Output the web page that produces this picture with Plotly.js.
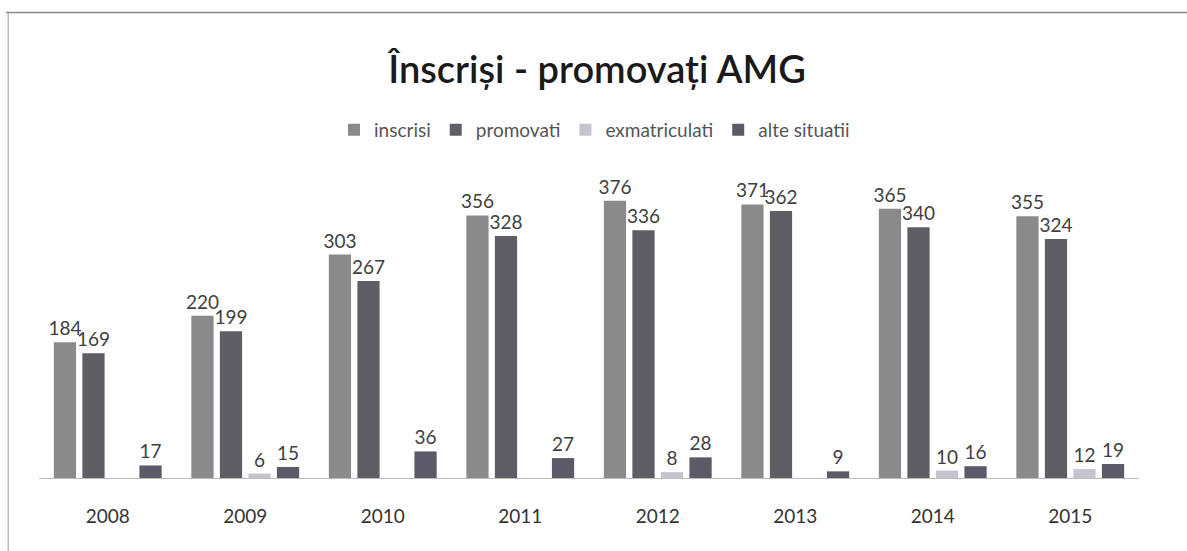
<!DOCTYPE html>
<html>
<head>
<meta charset="utf-8">
<script src="https://cdn.plot.ly/plotly-3.0.1.min.js"></script>
<style>html,body{margin:0;padding:0;background:#fff;}#chart{width:1187px;height:551px;}</style>
</head>
<body>
<div id="chart"></div>
<script>
const years = ['2008','2009','2010','2011','2012','2013','2014','2015'];
const inscrisi = [184, 220, 303, 356, 376, 371, 365, 355];
const promovati = [169, 199, 267, 328, 336, 362, 340, 324];
const exmatriculati = [null, 6, null, null, 8, null, 10, 12];
const alteSituatii = [17, 15, 36, 27, 28, 9, 16, 19];

const seriesNames = ['inscrisi', 'promovati', 'exmatriculati', 'alte situatii'];
const seriesValues = [inscrisi, promovati, exmatriculati, alteSituatii];
const seriesColors = ['#8a8a8c', '#5e5e66', '#c4c4d0', '#5a5a68'];

const traces = seriesValues.map((vals, i) => ({
  type: 'bar',
  name: seriesNames[i],
  x: years,
  y: vals,
  marker: {color: seriesColors[i]},
  text: vals.map(v => v === null ? '' : String(v)),
  textposition: 'outside',
  cliponaxis: false,
  constraintext: 'none',
  textfont: {family: 'Lato, "Open Sans", sans-serif', size: 19, color: '#404040'},
  hoverinfo: 'x+y+name'
}));

const layout = {
  width: 1187,
  height: 551,
  margin: {l: 39, r: 48, t: 183, b: 73},
  paper_bgcolor: '#ffffff',
  plot_bgcolor: '#ffffff',
  barmode: 'group',
  bargap: 0.17,
  bargroupgap: 0.22,
  title: {
    text: 'Înscriși - promovați AMG',
    font: {family: 'Lato, "Open Sans", sans-serif', size: 38, weight: 600, color: '#1a1a1a'},
    x: 0.503, xanchor: 'center',
    y: 0.873, yanchor: 'middle'
  },
  showlegend: true,
  legend: {
    orientation: 'h',
    x: 0.505, xanchor: 'center',
    y: 1.18, yanchor: 'middle',
    font: {family: 'Lato, "Open Sans", sans-serif', size: 19, color: '#555555'},
    itemwidth: 30,
    traceorder: 'normal'
  },
  xaxis: {
    type: 'category',
    showgrid: false,
    showline: true,
    linecolor: '#bdbdbd',
    linewidth: 1,
    ticks: '',
    tickfont: {family: 'Lato, "Open Sans", sans-serif', size: 19, color: '#333333'},
    ticklabelstandoff: 21
  },
  yaxis: {
    range: [0, 400],
    visible: false,
    showgrid: false,
    zeroline: false
  },
  shapes: [
    {type: 'line', xref: 'paper', yref: 'paper', x0: -0.03, x1: 1.05, y0: 1.578, y1: 1.578,
     line: {color: '#8a8a8a', width: 1.5}},
    {type: 'line', xref: 'paper', yref: 'paper', x0: -0.028, x1: -0.028, y0: 1.578, y1: -0.25,
     line: {color: '#9a9a9a', width: 1}}
  ]
};

Plotly.newPlot('chart', traces, layout, {displayModeBar: false, staticPlot: true});
</script>
</body>
</html>
